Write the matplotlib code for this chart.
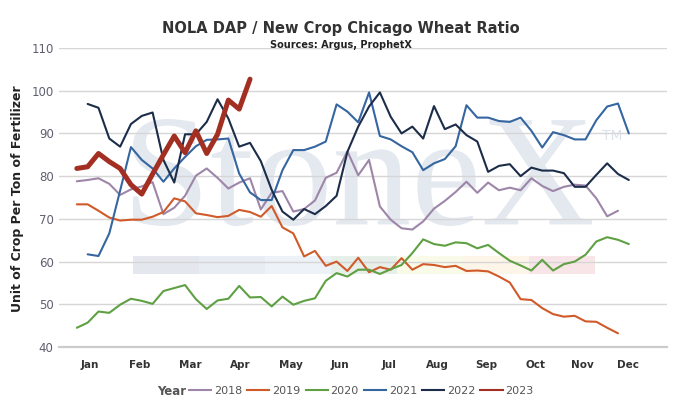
import matplotlib

matplotlib.use("Agg")
import matplotlib.pyplot as plt
import numpy as np
from matplotlib.font_manager import FontProperties
from matplotlib.lines import Line2D
from matplotlib.patches import PathPatch, Rectangle
from matplotlib.textpath import TextPath
from matplotlib.transforms import Affine2D

W, H = 696, 411

# weekly ratio values, week 1 = first week of January
ratio_2018 = [78.8, 79.1, 79.5, 78.2, 75.6, 76.9, 77.6, 78.6, 71.1, 72.6,
              75.4, 80.1, 81.8, 79.6, 77.1, 78.5, 79.5, 72.2, 76.1, 76.5,
              71.7, 72.3, 74.3, 79.6, 80.8, 85.8, 80.2, 83.8, 72.9, 69.8,
              67.8, 67.5, 69.4, 72.4, 74.2, 76.3, 78.7, 76.1, 78.5, 76.7,
              77.3, 76.7, 79.5, 77.7, 76.5, 77.5, 78.0, 77.8, 74.8, 70.6, 71.9]
ratio_2019 = [73.4, 73.4, 71.9, 70.3, 69.6, 69.8, 69.8, 70.5, 71.6, 74.8,
              74.1, 71.3, 70.9, 70.4, 70.7, 72.1, 71.6, 70.5, 73.0, 68.0,
              66.6, 61.2, 62.5, 59.0, 60.0, 57.8, 60.9, 57.5, 58.7, 58.1,
              60.8, 58.1, 59.4, 59.2, 58.7, 59.0, 57.8, 57.9, 57.7, 56.5,
              55.1, 51.2, 51.0, 49.1, 47.7, 47.1, 47.3, 46.0, 45.9, 44.5, 43.2]
ratio_2020 = [44.5, 45.7, 48.3, 48.0, 49.9, 51.3, 50.8, 50.1, 53.1, 53.8,
              54.5, 51.2, 48.9, 50.9, 51.3, 54.3, 51.6, 51.7, 49.5, 51.8,
              49.9, 50.8, 51.4, 55.5, 57.3, 56.5, 58.1, 58.1, 57.1, 58.2,
              59.2, 62.0, 65.2, 64.1, 63.7, 64.5, 64.3, 63.1, 63.9, 62.0,
              60.2, 59.1, 57.9, 60.4, 57.9, 59.4, 60.0, 61.6, 64.7, 65.7,
              65.1, 64.1]
ratio_2021 = [61.7, 61.3, 66.6, 76.6, 86.8, 83.8, 81.8, 78.7, 81.8, 84.5,
              87.0, 88.5, 88.6, 88.8, 80.6, 76.2, 74.4, 74.4, 81.4, 86.1,
              86.1, 86.9, 88.1, 96.8, 95.1, 92.6, 99.6, 89.4, 88.6, 87.0,
              85.6, 81.4, 83.0, 84.0, 87.0, 96.6, 93.7, 93.7, 92.9, 92.7,
              93.7, 90.6, 86.7, 90.3, 89.6, 88.6, 88.6, 93.1, 96.3, 97.0, 90.0]
ratio_2022 = [96.9, 96.0, 88.8, 86.9, 92.2, 94.1, 94.9, 83.8, 78.5, 89.8,
              89.8, 92.7, 98.0, 93.5, 86.9, 87.8, 83.5, 76.8, 71.7, 69.8,
              72.3, 71.1, 73.0, 75.4, 85.7, 91.6, 96.3, 99.6, 93.9, 90.0,
              91.6, 88.8, 96.4, 91.0, 92.1, 89.6, 88.1, 81.0, 82.4, 82.8,
              80.0, 82.0, 81.3, 81.3, 80.7, 77.5, 77.5, 80.3, 83.0, 80.5, 79.1]
ratio_2023 = [81.8, 82.2, 85.3, 83.4, 81.8, 78.0, 75.8, 80.5, 85.0, 89.4,
              85.5, 90.6, 85.3, 89.8, 97.8, 95.7, 102.7]

years = ["2018", "2019", "2020", "2021", "2022", "2023"]
series = [ratio_2018, ratio_2019, ratio_2020, ratio_2021, ratio_2022, ratio_2023]
first_weeks = [1, 1, 1, 2, 2, 1]
colors = ["#9d86a8", "#d05a2a", "#5ea043", "#3566a0", "#1c2d4a", "#a32f22"]
line_widths = [1.5, 1.5, 1.5, 1.5, 1.5, 3.6]

month_labels = ["Jan", "Feb", "Mar", "Apr", "May", "Jun",
                "Jul", "Aug", "Sep", "Oct", "Nov", "Dec"]
month_weeks = [2.15, 6.84, 11.52, 16.08, 20.8, 25.3,
               29.8, 34.3, 38.8, 43.35, 47.7, 51.9]

band_colors = ["#e4e8ee", "#e8edf4", "#edf2f8", "#e7efe9",
               "#fafae8", "#fdf5e8", "#f8e5e8"]


def fig_box(x0, y0, x1, y1):
    # pixel box (top-left origin) -> figure fraction rect
    return [x0 / W, 1 - y1 / H, (x1 - x0) / W, (y1 - y0) / H]


fig = plt.figure(figsize=(W / 100, H / 100), dpi=100, facecolor="white")
ax = fig.add_axes(fig_box(59.3, 48, 666.7, 347))
ax.patch.set_visible(False)

# watermark behind the plot
tp = TextPath((0, 0), "StoneX", size=100, prop=FontProperties(family="Liberation Serif"))
ext = tp.get_extents()
wx0, wx1, wtop, wbot = 133, 592, 119, 226
trans = (Affine2D().translate(-ext.x0, -ext.y0)
         .scale((wx1 - wx0) / ext.width, (wbot - wtop) / ext.height)
         .translate(wx0, H - wbot).scale(1 / W, 1 / H) + fig.transFigure)
fig.add_artist(PathPatch(tp, transform=trans, facecolor="#e4e8ef", edgecolor="none", zorder=-2))
fig.text(612 / W, 1 - 136 / H, "TM", color="#dde2ea", fontsize=10, ha="center", va="center", zorder=-2)
band_w = (595 - 133) / len(band_colors)
for i, c in enumerate(band_colors):
    x0 = 133 + i * band_w
    r = fig_box(x0, 256, x0 + band_w, 274)
    fig.add_artist(Rectangle((r[0], r[1]), r[2], r[3], transform=fig.transFigure,
                             facecolor=c, edgecolor="none", zorder=-2))

for year, vals, start, c, lw in zip(years, series, first_weeks, colors, line_widths):
    weeks = np.arange(start, start + len(vals))
    ax.plot(weeks, vals, color=c, lw=lw, solid_joinstyle="round", solid_capstyle="round",
            zorder=3 if year == "2023" else 2)

ax.set_xlim(-0.62, 55.5)
ax.set_ylim(40, 110)
ax.set_yticks(range(40, 111, 10))
ax.grid(axis="y", color="#d6d6d6", lw=1.0)
ax.set_axisbelow(True)
for side in ["top", "right", "left"]:
    ax.spines[side].set_visible(False)
ax.spines["bottom"].set_color("#cccccc")
ax.spines["bottom"].set_linewidth(1.6)
ax.tick_params(axis="y", length=0, pad=4, labelsize=8.5, labelcolor="#5f5f70")
ax.set_xticks(month_weeks, month_labels)
ax.tick_params(axis="x", length=0, pad=9, labelsize=7.5, labelcolor="#333333")
for lab in ax.get_xticklabels():
    lab.set_fontweight("bold")

fig.text(341 / W, 1 - 28 / H, "NOLA DAP / New Crop Chicago Wheat Ratio",
         ha="center", va="center", fontsize=10.5, fontweight="bold", color="#333333")
fig.text(341 / W, 1 - 45 / H, "Sources: Argus, ProphetX",
         ha="center", va="center", fontsize=7, fontweight="bold", color="#222222")
fig.text(18 / W, 1 - 199 / H, "Unit of Crop Per Ton of Fertilizer", rotation=90,
         ha="center", va="center", fontsize=9, fontweight="bold", color="#222222")

fig.text(157 / W, 1 - 391 / H, "Year", ha="left", va="center",
         fontsize=8.5, fontweight="bold", color="#555555")
handles = [Line2D([], [], color=c, lw=1.5) for c in colors]
fig.legend(handles, years, loc="center left", bbox_to_anchor=(189 / W, 1 - 391 / H),
           ncol=6, frameon=False, fontsize=8, handlelength=2.0, handletextpad=0.25,
           columnspacing=0.45, borderpad=0, borderaxespad=0, labelcolor="#555555")

fig.savefig("out.png", dpi=100, facecolor="white")
